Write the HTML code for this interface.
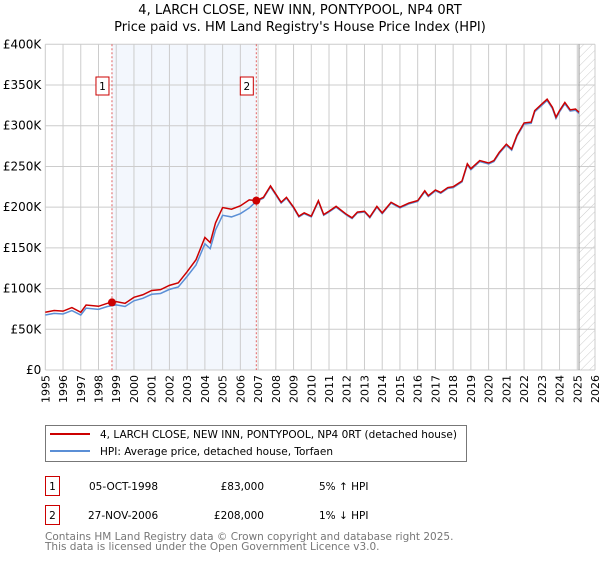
<!DOCTYPE html>
<html><head><meta charset="utf-8"><style>
body{margin:0;background:#fff;font-family:"DejaVu Sans","Liberation Sans",sans-serif}
svg text{font-family:"DejaVu Sans","Liberation Sans",sans-serif}
</style></head><body>
<svg id="chart" width="600" height="560" viewBox="0 0 600 560" xmlns="http://www.w3.org/2000/svg">
<defs><pattern id="hatch" patternUnits="userSpaceOnUse" width="6" height="6" patternTransform="rotate(45)"><line x1="0" y1="0" x2="0" y2="6" stroke="#ccc" stroke-width="1"/></pattern></defs>
<text x="300" y="14" text-anchor="middle" font-size="13">4, LARCH CLOSE, NEW INN, PONTYPOOL, NP4 0RT</text>
<text x="300" y="31" text-anchor="middle" font-size="13">Price paid vs. HM Land Registry's House Price Index (HPI)</text>
<g id="plot"></g>
<g>
<rect x="45.5" y="425.5" width="421" height="36" fill="#fff" stroke="#777"/>
<line x1="50" y1="434" x2="90" y2="434" stroke="#cc0000" stroke-width="2"/>
<text x="100" y="438" font-size="10.5">4, LARCH CLOSE, NEW INN, PONTYPOOL, NP4 0RT (detached house)</text>
<line x1="50" y1="451" x2="90" y2="451" stroke="#5b8fd6" stroke-width="2"/>
<text x="100" y="455" font-size="10.5">HPI: Average price, detached house, Torfaen</text>
</g>
<g font-size="10.5">
<rect x="45.5" y="476.5" width="14" height="19" fill="#fff" stroke="#cc0000"/>
<text x="52.5" y="490" text-anchor="middle">1</text>
<text x="89" y="490">05-OCT-1998</text>
<text x="264" y="490" text-anchor="end">£83,000</text>
<text x="319" y="490">5% ↑ HPI</text>
<rect x="45.5" y="505.5" width="14" height="19" fill="#fff" stroke="#cc0000"/>
<text x="52.5" y="519" text-anchor="middle">2</text>
<text x="88" y="519">27-NOV-2006</text>
<text x="264" y="519" text-anchor="end">£208,000</text>
<text x="319" y="519">1% ↓ HPI</text>
</g>
<text x="45" y="540" font-size="10.5" fill="#777">Contains HM Land Registry data © Crown copyright and database right 2025.</text>
<text x="45" y="550" font-size="10.5" fill="#777">This data is licensed under the Open Government Licence v3.0.</text>
</svg>
<script>
const hpiYears=[1995,1995.5,1996,1996.5,1997,1997.3,1998,1998.5,1999,1999.5,2000,2000.5,2001,2001.5,2002,2002.5,2003,2003.5,2004,2004.3,2004.6,2005,2005.5,2006,2006.5,2006.9,2007.3,2007.7,2008,2008.3,2008.6,2009,2009.3,2009.6,2010,2010.4,2010.7,2011,2011.4,2012,2012.3,2012.6,2013,2013.3,2013.7,2014,2014.5,2015,2015.5,2016,2016.4,2016.6,2017,2017.3,2017.7,2018,2018.5,2018.8,2019,2019.5,2020,2020.3,2020.6,2021,2021.3,2021.6,2022,2022.4,2022.6,2023,2023.3,2023.6,2023.8,2024,2024.3,2024.6,2024.9,2025.1];
const hpiValues=[67.5,69.6,68.8,73,67.5,76,74.5,78,80,78,85,88,93,94,99,102,115,129,155,149,172,190,188,192,199,207,211,225,215,205,211,199,188,192,188,207,190,194,200,190,186,193,194,187,200,192,205,199,204,207,219,213,220,217,223,224,231,252,246,256,253,256,266,276,270,287,302,303,317,325,331,321,309,317,327,318,319,315];
const saleDates=[1998.76,2006.9];
const salePrices=[83,208];
const yTicks=[0,50,100,150,200,250,300,350,400];
const yTickLabels=["£0","£50K","£100K","£150K","£200K","£250K","£300K","£350K","£400K"];
const xTicks=[1995,1996,1997,1998,1999,2000,2001,2002,2003,2004,2005,2006,2007,2008,2009,2010,2011,2012,2013,2014,2015,2016,2017,2018,2019,2020,2021,2022,2023,2024,2025,2026];

const X0=45.3,X1=595,Y0=370,Y1=44.3;
const xs=y=>X0+(y-1995)/(2026-1995)*(X1-X0);
const ys=v=>Y0-v/400*(Y0-Y1);
const NS="http://www.w3.org/2000/svg";
const plot=document.getElementById('plot');
function mk(t,a,p){const e=document.createElementNS(NS,t);for(const k in a)e.setAttribute(k,a[k]);(p||plot).appendChild(e);return e;}
function hpiAt(t){for(let i=0;i<hpiYears.length-1;i++){if(t>=hpiYears[i]&&t<=hpiYears[i+1]){const f=(t-hpiYears[i])/(hpiYears[i+1]-hpiYears[i]);return hpiValues[i]+f*(hpiValues[i+1]-hpiValues[i]);}}return hpiValues[hpiValues.length-1];}
// shaded ownership span
let r=mk('rect',{x:xs(saleDates[0]),y:Y1,width:xs(saleDates[1])-xs(saleDates[0]),height:Y0-Y1,fill:'#eef3fc',opacity:0.7});


// hatch future
const lastX=xs(hpiYears[hpiYears.length-1]);
r=mk('rect',{x:lastX,y:Y1,width:X1-lastX,height:Y0-Y1,fill:'url(#hatch)'});


// grid
xTicks.forEach(t=>{const l=mk('line',{x1:xs(t),x2:xs(t),y1:Y1,y2:Y0,stroke:'#ccc','stroke-width':1});


const tx=mk('text',{x:0,y:0,'font-size':11,'text-anchor':'end',transform:`translate(${xs(t)+4},${Y0+5}) rotate(-90)`});tx.textContent=t;

});
yTicks.forEach((v,i)=>{const l=mk('line',{x1:X0,x2:X1,y1:ys(v),y2:ys(v),stroke:'#ccc','stroke-width':1});


const tx=mk('text',{x:X0-4,y:ys(v)+4,'font-size':12,'text-anchor':'end'});tx.textContent=yTickLabels[i];

});
l=mk('line',{x1:lastX,x2:lastX,y1:Y1,y2:Y0,stroke:'#999','stroke-width':1});
// sale markers
saleDates.forEach((d,i)=>{const l=mk('line',{x1:xs(d),x2:xs(d),y1:Y1,y2:Y0,stroke:'#e06060','stroke-width':1,'stroke-dasharray':'2,2'});


const b=mk('rect',{x:xs(d)-16,y:77,width:13,height:18,fill:'#fff',stroke:'#cc0000'});


const t=mk('text',{x:xs(d)-9.5,y:90,'font-size':10.5,'text-anchor':'middle'});t.textContent=i+1;});
// lines
const hp=hpiYears.map((t,i)=>xs(t)+','+ys(hpiValues[i])).join(' ');
const r1=salePrices[0]/hpiAt(saleDates[0]),r2=salePrices[1]/hpiAt(saleDates[1]);
const rp=hpiYears.map((t,i)=>xs(t)+','+ys(hpiValues[i]*(t<saleDates[1]?r1:r2))).join(' ');
let p=mk('polyline',{points:hp,fill:'none',stroke:'#5b8fd6','stroke-width':1.5});


p=mk('polyline',{points:rp,fill:'none',stroke:'#cc0000','stroke-width':1.5});


saleDates.forEach((d,i)=>{const c=mk('circle',{cx:xs(d),cy:ys(salePrices[i]),r:4,fill:'#cc0000'});

});
</script>
</body></html>
